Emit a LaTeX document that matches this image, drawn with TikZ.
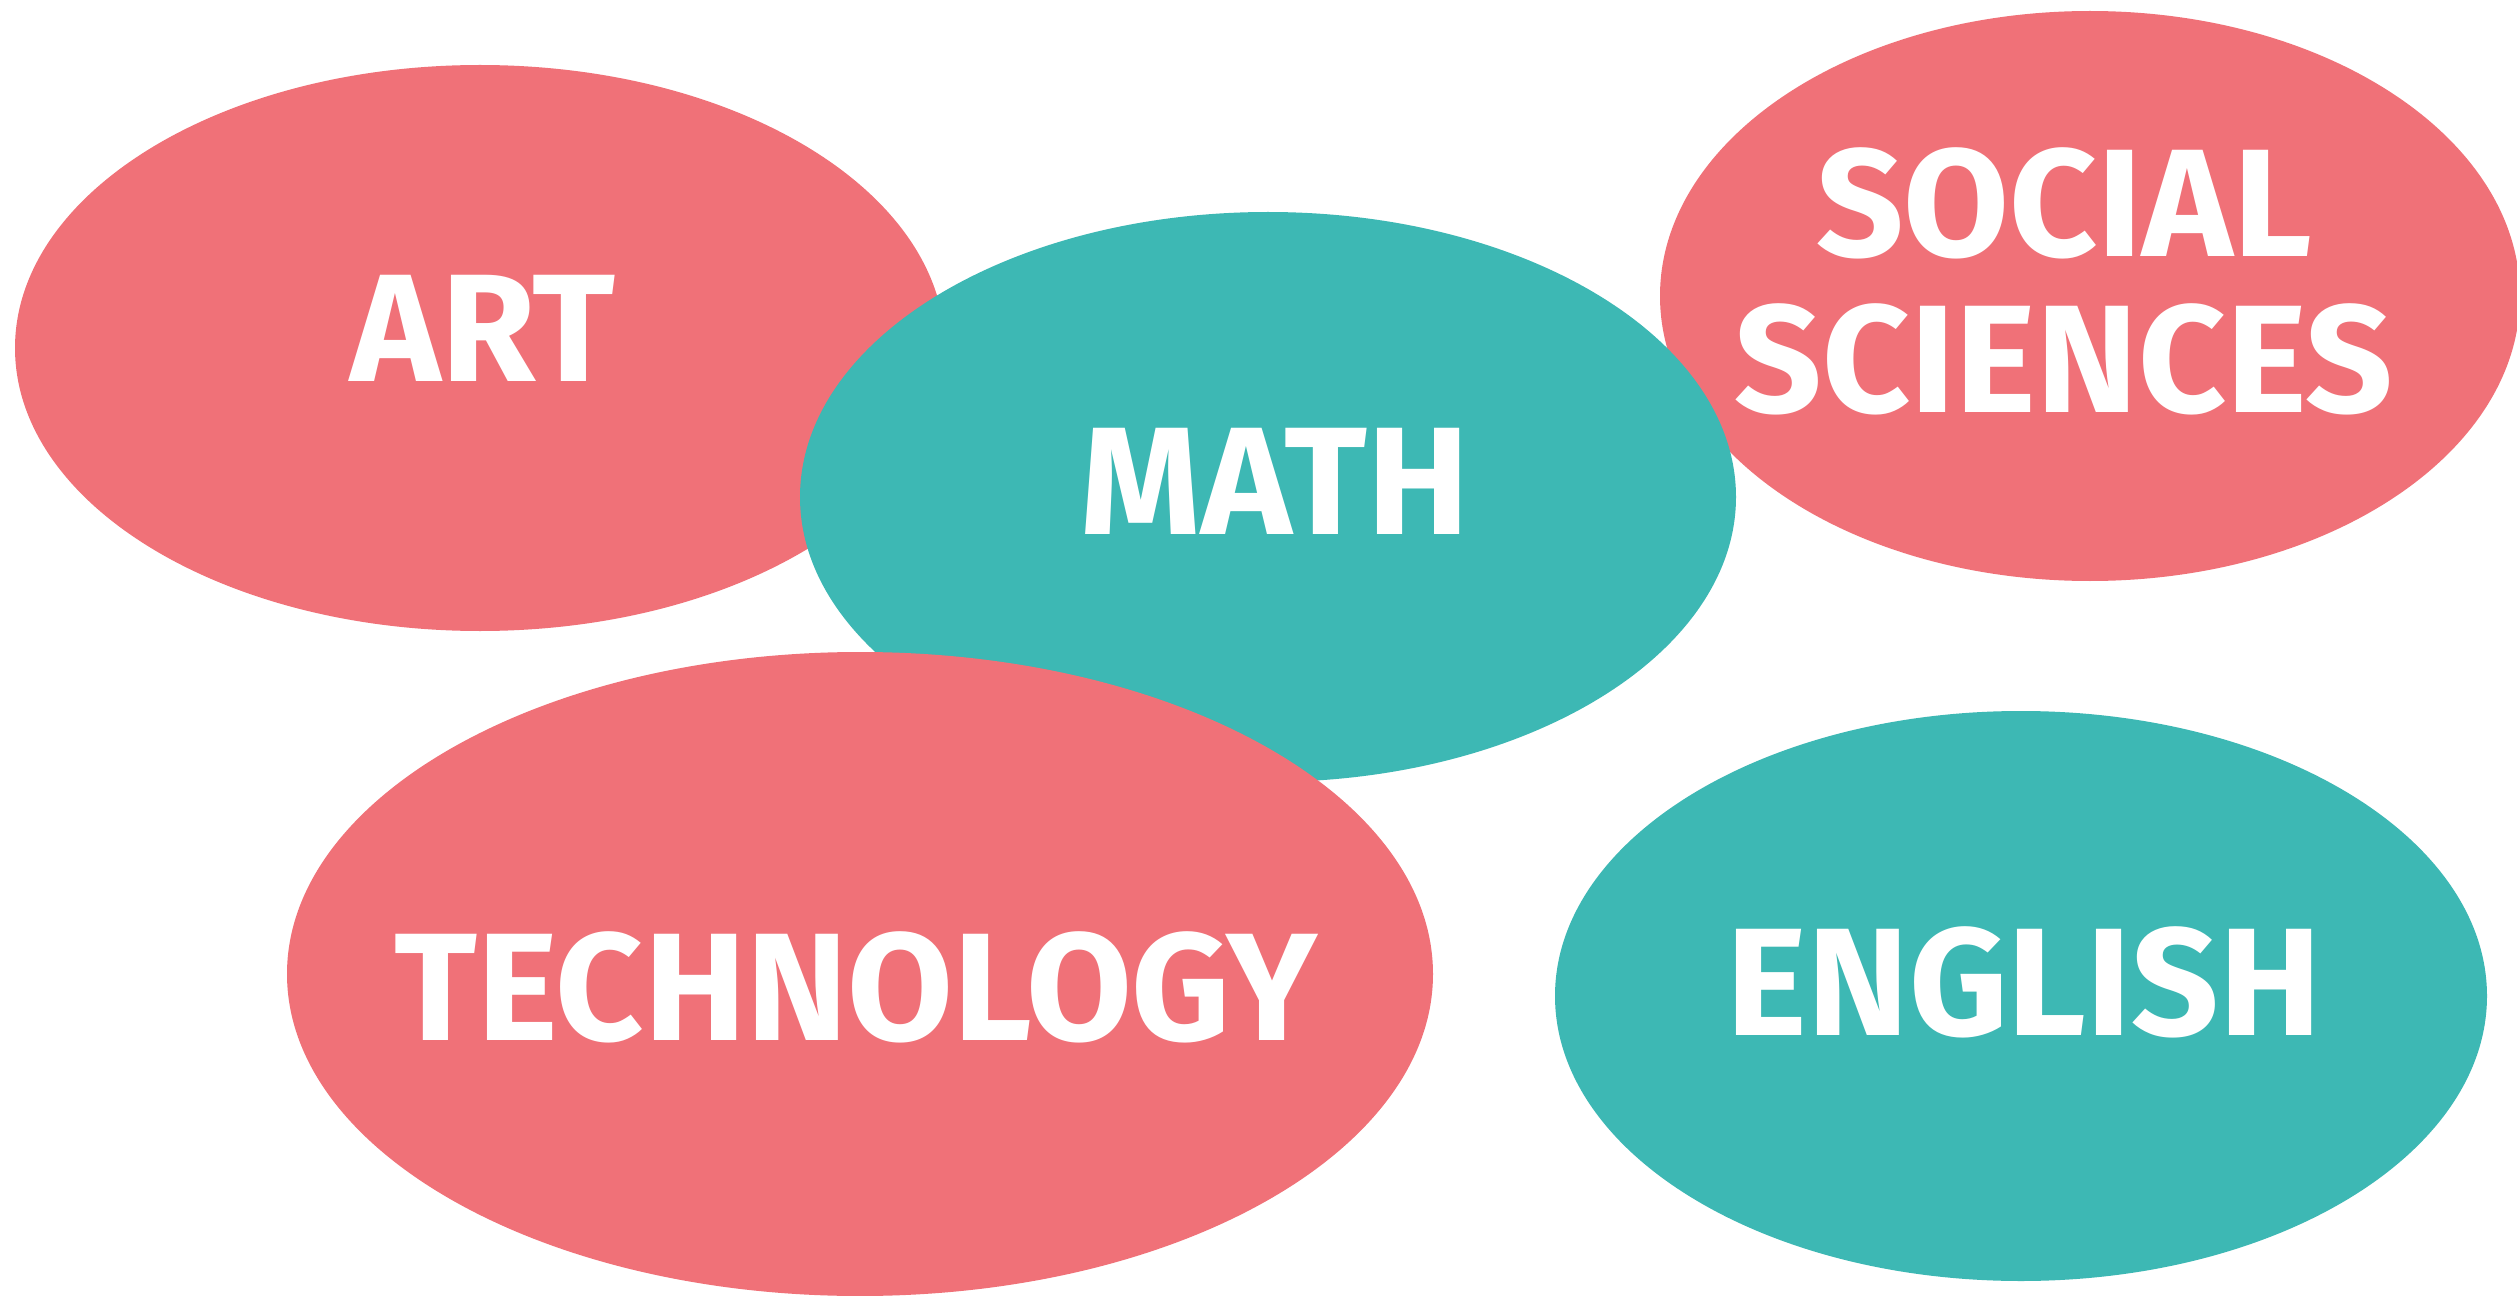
\documentclass[tikz,border=0pt]{standalone}
\usepackage{fontspec}
\setmainfont{Fira Sans}
\usetikzlibrary{shapes.geometric}
\definecolor{pinkc}{HTML}{F07178}
\definecolor{tealc}{HTML}{3DB8B4}
\begin{document}
\begin{tikzpicture}[x=0.3pt,y=-0.3pt,
  blob/.style 2 args={ellipse, inner sep=0pt, outer sep=0pt, draw=none,
    minimum width={2*#1*0.3pt}, minimum height={2*#2*0.3pt}},
  pinkblob/.style={fill=pinkc},
  tealblob/.style={fill=tealc},
  lbl/.style={text=white, inner sep=0pt, align=center,
    font=\fontsize{46}{46.8}\selectfont\bfseries}]
\useasboundingbox (0,0) rectangle (2517,1296);
\fill[white] (0,0) rectangle (2517,1296);
\node[blob={465}{283}, pinkblob] (artE) at (480,348) {};
\node[blob={430}{285}, pinkblob] (socE) at (2090,296) {};
\node[blob={468}{285}, tealblob] (mathE) at (1268,497) {};
\node[blob={573}{322}, pinkblob] (techE) at (860,974) {};
\node[blob={466}{285}, tealblob] (engE) at (2021,996) {};
\node[lbl] (artT) at (483,328) {ART};
\node[lbl] (socT) at (2064,281) {SOCIAL\\SCIENCES};
\node[lbl] (mathT) at (1275,481) {MATH};
\node[lbl] (techT) at (856,987) {TECHNOLOGY};
\node[lbl] (engT) at (2024,982) {ENGLISH};
\end{tikzpicture}
\end{document}
